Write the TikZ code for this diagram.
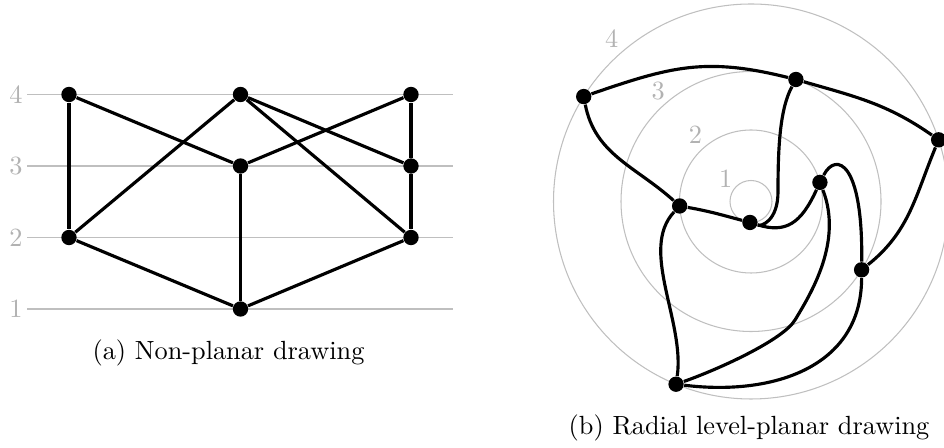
\documentclass[tikz,border=0pt]{standalone}

\begin{document}
\begin{tikzpicture}[
  x=0.01337cm,y=0.01337cm,
  vtx/.style={circle,fill=black,inner sep=0pt,minimum size=0.205cm},
  edge/.style={line width=1.2pt},
  lvl/.style={black!25,line width=0.4pt},
  lvllabel/.style={text=black!30,inner sep=0pt},
  caption/.style={anchor=base}]
  \useasboundingbox (0,0) rectangle (944,448);
  % (a) levels drawn as horizontal lines
  \foreach \l/\y in {1/139,2/210.5,3/282,4/353.5}{
    \draw[lvl] (27,\y) -- (453,\y);
    \node[lvllabel] (alab\l) at (16,\y) {\l};
  }
  \node[vtx] (a4l) at (69,353.5) {};
  \node[vtx] (a4m) at (240.5,353.5) {};
  \node[vtx] (a4r) at (411,353.5) {};
  \node[vtx] (a3m) at (240.5,282) {};
  \node[vtx] (a3r) at (411,282) {};
  \node[vtx] (a2l) at (69,210.5) {};
  \node[vtx] (a2r) at (411,210.5) {};
  \node[vtx] (a1)  at (240.5,139) {};
  \foreach \u/\v in {a4l/a2l,a4l/a3m,a4m/a2l,a4m/a3r,a4m/a2r,a4r/a3m,a4r/a3r,a3r/a2r,a3m/a1,a2l/a1,a2r/a1}
    \draw[edge] (\u) -- (\v);
  \node[caption] (capa) at (228.5,88) {(a) Non-planar drawing};
  % (b) levels drawn as circles
  \begin{scope}[shift={(751,246.5)}]
    \foreach \r in {21,71.5,130,197.5}
      \draw[lvl] (0,0) circle[radius=\r];
    \foreach \l/\a/\d in {1/138/34,2/130/86.5,3/130/144.5,4/130.5/214.5}
      \node[lvllabel] (blab\l) at (\a:\d) {\l};
    \node[vtx] (b4l) at (147.9:197.5) {};
    \node[vtx] (b3m) at (69.8:130) {};
    \node[vtx] (b4r) at (18.2:197.5) {};
    \node[vtx] (b2r) at (15.5:71.5) {};
    \node[vtx] (b2l) at (183.6:71.5) {};
    \node[vtx] (b1)  at (267:21) {};
    \node[vtx] (b3r) at (-31.7:130) {};
    \node[vtx] (b4m) at (247.7:197.5) {};
    \draw[edge] (b4l) to[out=19,in=166,looseness=1.1] (b3m);
    \draw[edge] (b3m) to[out=-16,in=145] (b4r);
    \draw[edge] (b4l) to[out=-79,in=138] (b2l);
    \draw[edge] (b2l) to[out=-10,in=165] (b1);
    \draw[edge] (b3m) .. controls (28.3,91.8) and (27,50) .. (27,10)
                      .. controls (27,-20) and (10,-25) .. (b1);
    \draw[edge] (b1) .. controls (35,-32) and (50,-22) .. (b2r);
    \draw[edge] (b4r) to[out=-112.6,in=38.7] (b3r);
    \draw[edge] (b2r) .. controls (85,50) and (112,40) .. (b3r);
    \draw[edge] (b2r) .. controls (92,-40) and (60,-92) .. (44,-118.5)
                      .. controls (32,-138.5) and (-32.5,-167.8) .. (b4m);
    \draw[edge] (b3r) to[out=-90,in=-7,looseness=1.1] (b4m);
    \draw[edge] (b2l) .. controls (-112,-48) and (-66,-120) .. (b4m);
  \end{scope}
  \node[caption] (capb) at (749,13.3) {(b) Radial level-planar drawing};
\end{tikzpicture}
\end{document}
